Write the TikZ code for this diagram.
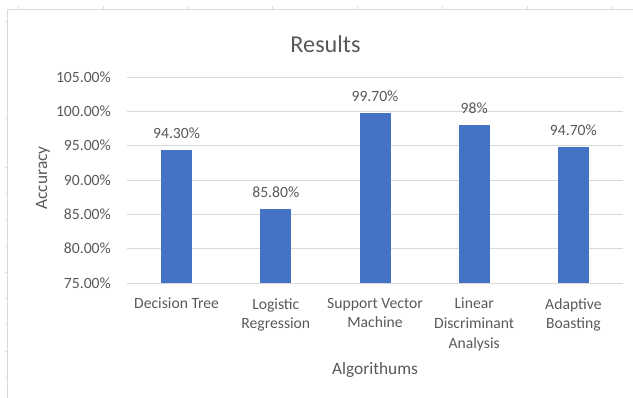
\documentclass[tikz,border=0pt]{standalone}
\usepackage[x11names, svgnames, rgb]{xcolor}
\usepackage{tikz}
\usepackage{fontspec}
\setmainfont{Carlito}
\definecolor{barblue}{RGB}{68,114,196}
\definecolor{gridgray}{RGB}{217,217,217}
\definecolor{labelgray}{RGB}{89,89,89}
\definecolor{sheetgray}{RGB}{222,222,222}
\tikzset{
  bar/.style={fill=barblue,inner sep=0pt,minimum width=31bp,anchor=south},
  ticklabel/.style={text=labelgray,anchor=east,inner sep=0pt,font=\fontsize{15.7}{19.6}\selectfont},
  datalabel/.style={text=labelgray,inner sep=0pt,font=\fontsize{15.7}{19.6}\selectfont},
  catlabel/.style={text=labelgray,anchor=north,inner sep=0pt,align=center,font=\fontsize{15.7}{19.6}\selectfont},
  axistitle/.style={text=labelgray,inner sep=0pt,font=\fontsize{17.4}{20}\selectfont},
  charttitle/.style={text=labelgray,inner sep=0pt,font=\fontsize{24.3}{28}\selectfont},
}

\begin{document}
\begin{tikzpicture}[line join=bevel,]
\useasboundingbox (0bp,0bp) rectangle (633bp,398bp);
%% sheet cell marks and chart frame
\draw [sheetgray,line width=0.8bp] (18bp,388bp) -- (18bp,392bp);
  \draw [sheetgray,line width=0.8bp] (103bp,388bp) -- (103bp,392bp);
  \draw [sheetgray,line width=0.8bp] (188bp,388bp) -- (188bp,392bp);
  \draw [sheetgray,line width=0.8bp] (272bp,388bp) -- (272bp,392bp);
  \draw [sheetgray,line width=0.8bp] (357bp,388bp) -- (357bp,392bp);
  \draw [sheetgray,line width=0.8bp] (442bp,388bp) -- (442bp,392bp);
  \draw [sheetgray,line width=0.8bp] (527bp,388bp) -- (527bp,392bp);
  \draw [sheetgray,line width=0.8bp] (611bp,388bp) -- (611bp,392bp);
  \draw [sheetgray,line width=0.6bp] (5bp,377bp) -- (7bp,377bp);
  \draw [sheetgray,line width=0.6bp] (5bp,280bp) -- (7bp,280bp);
  \draw [sheetgray,line width=0.6bp] (5bp,231bp) -- (7bp,231bp);
  \draw [sheetgray,line width=0.6bp] (5bp,205bp) -- (7bp,205bp);
  \draw [sheetgray,line width=0.6bp] (5bp,179bp) -- (7bp,179bp);
  \draw [sheetgray,line width=0.6bp] (5bp,152bp) -- (7bp,152bp);
  \draw [sheetgray,line width=0.6bp] (5bp,126bp) -- (7bp,126bp);
  \draw [sheetgray,line width=0.6bp] (5bp,100bp) -- (7bp,100bp);
  \draw [sheetgray,line width=0.6bp] (5bp,74bp) -- (7bp,74bp);
  \draw [sheetgray,line width=0.6bp] (5bp,47bp) -- (7bp,47bp);
  \draw [sheetgray,line width=0.6bp] (5bp,21bp) -- (7bp,21bp);
  \draw [gridgray,line width=1bp] (7bp,0bp) -- (7bp,388bp) -- (633bp,388bp);
%% gridlines and value axis
\draw [gridgray,line width=0.8bp] (127bp,115.0bp) -- (623bp,115.0bp);
  \draw [gridgray,line width=0.8bp] (127bp,149.3bp) -- (623bp,149.3bp);
  \draw [gridgray,line width=0.8bp] (127bp,183.7bp) -- (623bp,183.7bp);
  \draw [gridgray,line width=0.8bp] (127bp,218.0bp) -- (623bp,218.0bp);
  \draw [gridgray,line width=0.8bp] (127bp,252.3bp) -- (623bp,252.3bp);
  \draw [gridgray,line width=0.8bp] (127bp,286.7bp) -- (623bp,286.7bp);
  \draw [gridgray,line width=0.8bp] (127bp,321.0bp) -- (623bp,321.0bp);
\node (t75) at (111bp,115.0bp) [ticklabel] {75.00\%};
  \node (t80) at (111bp,149.3bp) [ticklabel] {80.00\%};
  \node (t85) at (111bp,183.7bp) [ticklabel] {85.00\%};
  \node (t90) at (111bp,218.0bp) [ticklabel] {90.00\%};
  \node (t95) at (111bp,252.3bp) [ticklabel] {95.00\%};
  \node (t100) at (111bp,286.7bp) [ticklabel] {100.00\%};
  \node (t105) at (111bp,321.0bp) [ticklabel] {105.00\%};
%% bars
\node (dtbar) at (176.6bp,115.0bp) [bar,minimum height=132.5bp] {};
  \node (lrbar) at (275.8bp,115.0bp) [bar,minimum height=74.2bp] {};
  \node (svmbar) at (375.0bp,115.0bp) [bar,minimum height=169.6bp] {};
  \node (ldabar) at (474.2bp,115.0bp) [bar,minimum height=157.9bp] {};
  \node (abbar) at (573.4bp,115.0bp) [bar,minimum height=135.3bp] {};
\node (dtval) at (176.6bp,265.0bp) [datalabel] {94.30\%};
  \node (lrval) at (275.8bp,206.2bp) [datalabel] {85.80\%};
  \node (svmval) at (375.0bp,301.4bp) [datalabel] {99.70\%};
  \node (ldaval) at (474.2bp,289.9bp) [datalabel] {98\%};
  \node (abval) at (573.4bp,267.3bp) [datalabel] {94.70\%};
%% categories and titles
\node (dtcat) at (176.6bp,100bp) [catlabel] {Decision Tree};
  \node (lrcat) at (275.8bp,100bp) [catlabel] {Logistic\\Regression};
  \node (svmcat) at (375.0bp,100bp) [catlabel] {Support Vector\\Machine};
  \node (ldacat) at (474.2bp,100bp) [catlabel] {Linear\\Discriminant\\Analysis};
  \node (abcat) at (573.4bp,100bp) [catlabel] {Adaptive\\Boasting};
\node (xtitle) at (375bp,28bp) [axistitle] {Algorithums};
  \node (ytitle) at (43bp,220bp) [axistitle,rotate=90] {Accuracy};
  \node (title) at (325.5bp,354bp) [charttitle] {Results};
%
\end{tikzpicture}
\end{document}
